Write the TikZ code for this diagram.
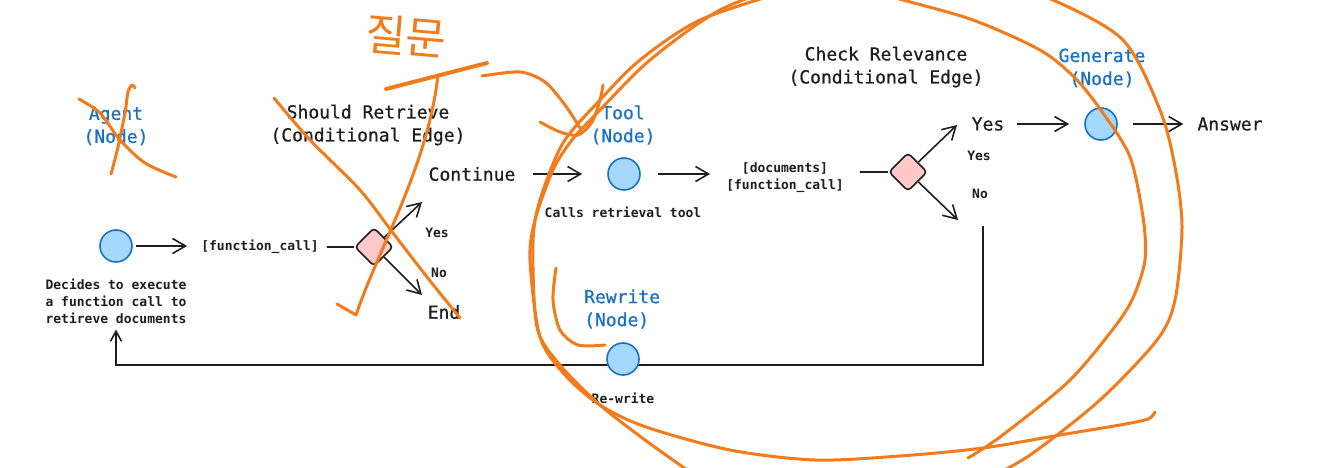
\documentclass[tikz,border=0pt]{standalone}
\usepackage{fontspec}
\newfontfamily\diagfont[FakeBold=0.7]{DejaVu Sans Mono}
\newfontfamily\smallfont{DejaVu Sans Mono Bold}
\newfontfamily\krfont{Noto Sans CJK KR}
\usetikzlibrary{arrows.meta}
\definecolor{ink}{HTML}{1E1E1E}
\definecolor{nodeblue}{HTML}{1971C2}
\definecolor{nodefill}{HTML}{A5D8FF}
\definecolor{pinkfill}{HTML}{FFC9C9}
\definecolor{annot}{RGB}{242,123,28}
\begin{document}
\begin{tikzpicture}[x=1pt,y=-1pt,
  bigtxt/.style={font=\diagfont\fontsize{18}{23}\selectfont, text=ink, inner sep=0pt, align=center},
  smalltxt/.style={font=\smallfont\fontsize{13}{17}\selectfont, text=ink, inner sep=0pt, align=center},
  bluelab/.style={font=\diagfont\fontsize{18}{23}\selectfont, text=nodeblue, inner sep=0pt, align=center},
  bubble/.style={circle, draw=nodeblue, fill=nodefill, line width=1.6pt, minimum size=32pt, inner sep=0pt},
  cond/.style={draw=ink, fill=pinkfill, line width=1.6pt, rounded corners=4pt, minimum size=27pt, inner sep=0pt, rotate=45},
  linkline/.style={draw=ink, line width=1.6pt},
  linkarrow/.style={linkline, -{Straight Barb[length=13pt,width=15pt,line width=1.6pt]}},
  backarrow/.style={linkline, -{Straight Barb[length=10pt,width=11pt,line width=1.6pt]}},
  annotpen/.style={draw=annot, line width=3pt, line cap=round, line join=round},
]
\useasboundingbox (0,0) rectangle (1320,468);
\fill[white] (0,0) rectangle (1320,468);
\clip (0,0) rectangle (1320,468);

% ---- labels ----
\node[bluelab] (agentlab) at (116,126) {Agent\\(Node)};
\node[bluelab] (toollab) at (623,125) {Tool\\(Node)};
\node[bluelab] (genlab) at (1102,68) {Generate\\(Node)};
\node[bluelab, align=left, anchor=west] (rwlab) at (584,309) {Rewrite\\(Node)};
\node[bigtxt] (srlab) at (368,125) {Should Retrieve\\(Conditional Edge)};
\node[bigtxt] (crlab) at (886,67) {Check Relevance\\(Conditional Edge)};

% ---- nodes ----
\node[smalltxt] (agentdesc) at (116,301) {Decides to execute\\a function call to\\retireve documents};
\node[smalltxt] (fc1) at (260,247) {{[function\_call]}};
\node[smalltxt] (yes1) at (437,233) {Yes};
\node[smalltxt] (no1) at (439,273) {No};
\node[bigtxt] (cont) at (472,174) {Continue};
\node[bigtxt] (endn) at (444,312) {End};
\node[smalltxt] (tooldesc) at (623,212) {Calls retrieval tool};
\node[smalltxt] (docs) at (785,178) {{[documents]}\\{[function\_call]}};
\node[bigtxt] (yes2) at (988,124) {Yes};
\node[smalltxt] (yes2s) at (979,156) {Yes};
\node[smalltxt] (no2) at (980,194) {No};
\node[bigtxt] (ans) at (1230,124) {Answer};
\node[smalltxt] (rwdesc) at (623,398) {Re-write};

% feedback line (behind the Rewrite circle)
\coordinate (fbstart) at (983,226);
\coordinate (fbleft) at (116,365);
\draw[backarrow, shorten >=6pt] (fbstart) |- (fbleft) -- (agentdesc.south);

\node[bubble] (agent) at (116,246) {};
\node[bubble] (tool) at (624,174) {};
\node[bubble] (gen) at (1101,124) {};
\node[bubble] (rw) at (623,359) {};
\node[cond] (d1) at (374,247) {};
\node[cond] (d2) at (908,172) {};

% ---- connectors ----
\coordinate (d1y) at (422,202);
\coordinate (d1n) at (422,295);
\coordinate (d2y) at (957,125);
\coordinate (d2n) at (958,220);
\draw[linkarrow, shorten <=3pt, shorten >=14pt] (agent) -- (agent -| fc1.west);
\draw[linkline, shorten <=8pt] (fc1.east) -- (d1);
\draw[linkarrow] (d1) -- (d1y);
\draw[linkarrow] (d1) -- (d1n);
\draw[linkarrow, shorten <=17pt, shorten >=25pt] (cont.east) -- (tool);
\draw[linkarrow, shorten <=17pt, shorten >=16pt] (tool) -- (tool -| docs.west);
\draw[linkline, shorten <=16pt] (d2 -| docs.east) -- (d2);
\draw[linkarrow] (d2) -- (d2y);
\draw[linkarrow] (d2) -- (d2n);
\draw[linkarrow, shorten <=13pt, shorten >=15pt] (yes2.east) -- (gen);
\draw[linkarrow, shorten <=15pt, shorten >=14pt] (gen) -- (gen -| ans.west);

% ---- orange annotations ----
\node[text=annot, inner sep=0pt, font=\krfont\fontsize{44}{46}\selectfont, rotate=-5] (kr) at (406,36) {질문};
% Agent X
\draw[annotpen] plot[smooth] coordinates {(79,99) (100,113) (120,140) (145,163) (176,177)};
\draw[annotpen] plot[smooth] coordinates {(135,88) (132,85) (128,92) (125,113) (118,147) (111,174)};
% Should Retrieve X
\draw[annotpen] plot[smooth] coordinates {(274,98) (310,140) (360,190) (393,233) (427,277) (460,318)};
\draw[annotpen] (337,304) -- (356,315) .. controls (380,245) and (428,165) .. (438,75);
\draw[annotpen, line width=4pt] (386,89) -- (487,63);
\draw[annotpen] plot[smooth] coordinates {(482,76) (520,72) (545,82) (565,105) (580,128)};
\draw[annotpen] plot[smooth] coordinates {(540,122) (560,132) (578,135) (592,122) (600,100) (603,85)};
% big loops
\draw[annotpen] plot[smooth] coordinates {(790,-10) (700,20) (640,60) (600,100) (563,143) (540,200) (533,243) (537,327) (560,365) (600,405) (645,440) (690,472)};
\draw[annotpen] plot[smooth] coordinates {(800,-20) (720,10) (650,60) (600,110) (572,140) (553,170) (535,220) (530,260) (540,337) (565,375) (600,405) (646,427) (730,450) (815,460) (900,456) (983,448) (1060,435) (1120,425) (1148,419) (1155,412)};
\draw[annotpen] plot[smooth] coordinates {(860,-12) (903,0) (973,20) (1040,50) (1075,78) (1103,113) (1130,157) (1143,217) (1145,260) (1132,300) (1110,333) (1067,383) (1000,437) (968,458)};
\draw[annotpen] plot[smooth] coordinates {(1000,-15) (1053,0) (1123,40) (1160,110) (1175,167) (1182,227) (1175,300) (1157,340) (1100,400) (1033,453) (995,475)};
\draw[annotpen] plot[smooth] coordinates {(556,268) (553,300) (560,330) (578,345) (605,345)};
\end{tikzpicture}
\end{document}
